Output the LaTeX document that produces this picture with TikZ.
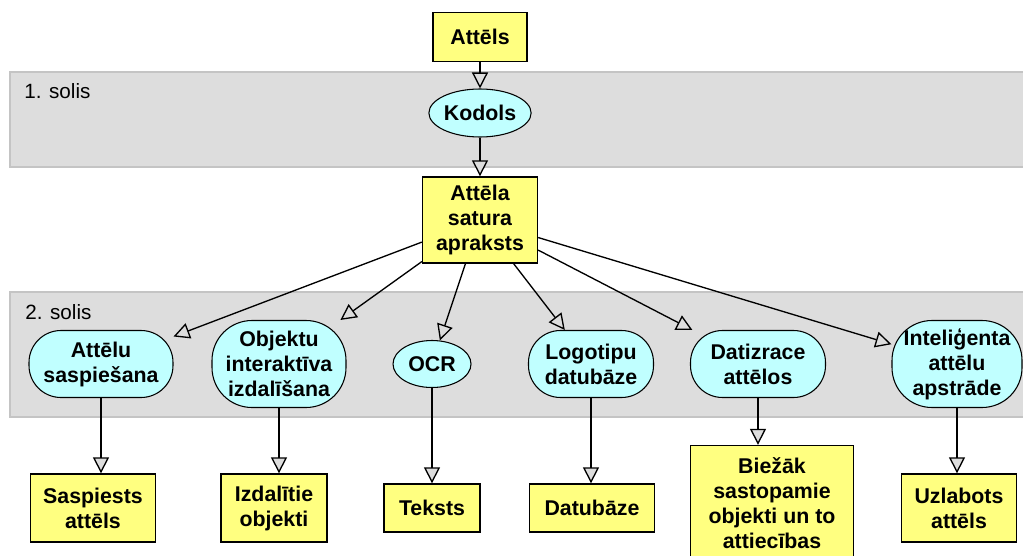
\documentclass[tikz,border=0pt]{standalone}
\usepackage{fontspec}
\setmainfont{Liberation Sans}
\usetikzlibrary{arrows.meta, shapes.geometric}
\definecolor{dzeltens}{HTML}{FFFF80}
\definecolor{zils}{HTML}{C0FFFF}
\definecolor{pelekss}{HTML}{DDDDDD}
\definecolor{mala}{HTML}{C4C4C4}
\tikzset{
  teksts/.style={font=\bfseries\fontsize{16}{18.75}\selectfont, align=center, inner sep=0pt},
  kaste/.style={teksts, draw, line width=1pt, fill=dzeltens},
  ovals/.style={teksts, draw, line width=0.8pt, fill=zils, rounded corners=24pt},
  elipse/.style={teksts, ellipse, draw, line width=0.8pt, fill=zils},
  bulta/.style={line width=1pt, -{Triangle[length=12pt,width=12pt,fill=pelekss]}},
}

\begin{document}
\begin{tikzpicture}[x=0.75pt,y=-0.75pt]
  \useasboundingbox (0,0) rectangle (1023,556);
  \filldraw[fill=pelekss, draw=mala, line width=1pt] (10,72) rectangle (1040,167); %1. solis
  \filldraw[fill=pelekss, draw=mala, line width=1pt] (10,292) rectangle (1040,417); %2. solis
  \node[anchor=west, inner sep=0pt, font=\fontsize{15.5}{18}\selectfont] (solis1) at (24,91) {1. solis};
  \node[anchor=west, inner sep=0pt, font=\fontsize{15.5}{18}\selectfont] (solis2) at (25,312) {2. solis};

  \node[kaste, minimum width=70.5pt, minimum height=36.75pt] (att) at (480,37) {Attēls};
  \node[elipse, minimum width=73.5pt, minimum height=36pt] (kod) at (480,113) {Kodols};
  \node[kaste, minimum width=86.25pt, minimum height=64.5pt] (apr) at (480,220) {Attēla\\satura\\apraksts};

  %2. solis
  \node[ovals, minimum width=108pt, minimum height=50.25pt] (e1) at (101,364) {Attēlu\\saspiešana};
  \node[ovals, rounded corners=30pt, minimum width=100.5pt, minimum height=65.25pt] (e2) at (279,364) {Objektu\\interaktīva\\izdalīšana};
  \node[elipse, minimum width=58.5pt, minimum height=35.25pt] (e3) at (432,364) {OCR};
  \node[ovals, minimum width=93.75pt, minimum height=50.25pt] (e4) at (591,364) {Logotipu\\datubāze};
  \node[ovals, minimum width=101.25pt, minimum height=50.25pt] (e5) at (758,364) {Datizrace\\attēlos};
  \node[ovals, rounded corners=30pt, minimum width=97.5pt, minimum height=65.25pt] (e6) at (957,364) {Inteliģenta\\attēlu\\apstrāde};

  %rezultati
  \node[kaste, minimum width=93.75pt, minimum height=51pt] (b1) at (93,508) {Saspiests\\attēls};
  \node[kaste, minimum width=79.5pt, minimum height=51pt] (b2) at (274,508) {Izdalītie\\objekti};
  \node[kaste, minimum width=72pt, minimum height=36pt] (b3) at (432,508) {Teksts};
  \node[kaste, minimum width=93.75pt, minimum height=36pt] (b4) at (592,508) {Datubāze};
  \node[kaste, minimum width=122.25pt, minimum height=86.25pt] (b5) at (772,503) {Biežāk\\sastopamie\\objekti un to\\attiecības};
  \node[kaste, minimum width=86.25pt, minimum height=51pt] (b6) at (959,508) {Uzlabots\\attēls};

  \draw[bulta] (att) -- (kod);
  \draw[bulta] (kod) -- (apr);
  \foreach \n in {e1,e2,e3,e4,e5,e6} \draw[bulta] (apr) -- (\n);
  \foreach \n/\m in {e1/b1,e2/b2,e3/b3,e4/b4,e5/b5,e6/b6}
    \draw[bulta] (\n.south) -- (\n.south |- \m.north);
\end{tikzpicture}
\end{document}
